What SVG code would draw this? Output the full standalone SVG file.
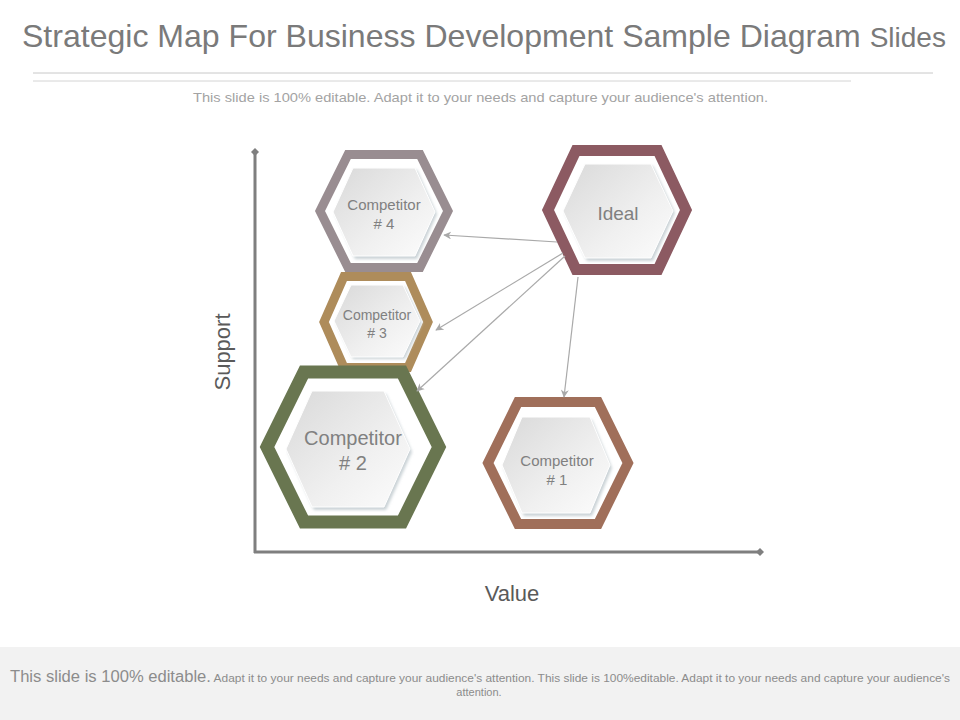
<svg xmlns="http://www.w3.org/2000/svg" width="960" height="720" viewBox="0 0 960 720">
<style>
  text { font-family: "Liberation Sans", Arial, sans-serif; }
  .title { fill: #7a7a7a; font-size: 32px; }
  .sub { fill: #a3a3a3; font-size: 13.5px; }
  .lbl { fill: #808080; text-anchor: middle; }
  .axislbl { fill: #5a5a5a; font-size: 22px; text-anchor: middle; }
  .ring { fill: #ffffff; }
  .inner { fill: url(#g); stroke: #ffffff; stroke-width: 1; }
  .shadow { fill: #c9d1d5; filter: url(#blur); }
  .conn { stroke: #a9a9a9; stroke-width: 1.2; fill: none; marker-end: url(#ah); }
  .axis { stroke: #7f7f7f; stroke-width: 3; fill: none; }
</style>
<defs>
  <linearGradient id="g" x1="0" y1="0" x2="1" y2="1">
    <stop offset="0" stop-color="#d9d9d9"/>
    <stop offset="0.6" stop-color="#f0f0f0"/>
    <stop offset="1" stop-color="#fcfcfc"/>
  </linearGradient>
  <filter id="blur" x="-20%" y="-20%" width="140%" height="140%">
    <feGaussianBlur stdDeviation="1.5"/>
  </filter>
  <marker id="ah" viewBox="0 0 10 10" refX="9" refY="5" markerWidth="8" markerHeight="8" markerUnits="userSpaceOnUse" orient="auto">
    <path d="M0,0 L10,5 L0,10 L3,5 Z" fill="#a9a9a9"/>
  </marker>
  <marker id="dm" viewBox="0 0 10 10" refX="5" refY="5" markerWidth="8" markerHeight="8" markerUnits="userSpaceOnUse" orient="auto">
    <path d="M0,5 L5,0 L10,5 L5,10 Z" fill="#7f7f7f"/>
  </marker>
</defs>
<rect x="0" y="0" width="960" height="720" fill="#ffffff"/>

<g id="header">
  <text class="title" x="22" y="47" textLength="924" lengthAdjust="spacingAndGlyphs">Strategic Map For Business Development Sample Diagram <tspan font-size="28">Slides</tspan></text>
  <line x1="33" y1="73" x2="933" y2="73" stroke="#c8c8c8" stroke-width="1"/>
  <line x1="33" y1="81" x2="851" y2="81" stroke="#d4d4d4" stroke-width="1"/>
  <text class="sub" x="193" y="102" textLength="575" lengthAdjust="spacingAndGlyphs">This slide is 100% editable. Adapt it to your needs and capture your audience's attention.</text>
</g>

<g id="axes">
  <line class="axis" x1="255" y1="553" x2="255" y2="152" marker-end="url(#dm)"/>
  <line class="axis" x1="254" y1="552" x2="760" y2="552" marker-end="url(#dm)"/>
  <text class="axislbl" transform="translate(230,352) rotate(-90)">Support</text>
  <text class="axislbl" x="512" y="601">Value</text>
</g>

<g id="competitor4">
  <polygon class="ring" points="320,211 348,154.5 420,154.5 448,211 420,267.5 348,267.5" stroke="#998d91" stroke-width="9"/>
  <polygon class="shadow" points="335,214 355,170 417,170 437,214 417,259 355,259"/>
  <polygon class="inner" points="333,212 353,168 415,168 435,212 415,256 353,256"/>
  <text class="lbl" font-size="15" x="384" y="210">Competitor</text>
  <text class="lbl" font-size="15" x="384" y="229"># 4</text>
</g>

<g id="ideal">
  <polygon class="ring" points="548,210 576,150.5 658,150.5 686,210 658,269.5 576,269.5" stroke="#8c5a62" stroke-width="11"/>
  <polygon class="shadow" points="565,213 587,166 653,166 675,213 653,261 587,261"/>
  <polygon class="inner" points="563,211 585,164 651,164 673,211 651,258 585,258"/>
  <text class="lbl" font-size="19" x="618" y="220">Ideal</text>
</g>

<g id="competitor3">
  <polygon class="ring" points="324,322 344,276.5 408,276.5 428,322 408,367.5 344,367.5" stroke="#ae8c5b" stroke-width="9"/>
  <polygon class="shadow" points="336,323 353,287 405,287 422,323 405,359 353,359"/>
  <polygon class="inner" points="334,321 351,285 403,285 420,321 403,357 351,357"/>
  <text class="lbl" font-size="14" x="377" y="320">Competitor</text>
  <text class="lbl" font-size="14" x="377" y="338"># 3</text>
</g>

<g id="competitor2">
  <polygon class="ring" points="267,447 304,372 402,372 439,447 402,522 304,522" stroke="#697650" stroke-width="13"/>
  <polygon class="shadow" points="288,452 314,394 386,394 412,452 386,510 314,510"/>
  <polygon class="inner" points="286,449 312,391 384,391 410,449 384,507 312,507"/>
  <text class="lbl" font-size="20" x="353" y="445">Competitor</text>
  <text class="lbl" font-size="20" x="353" y="470"># 2</text>
</g>

<g id="competitor1">
  <polygon class="ring" points="488,463 518,402 598,402 628,463 598,524 518,524" stroke="#a06f5a" stroke-width="10"/>
  <polygon class="shadow" points="504,468 524,420 592,420 612,468 592,516 524,516"/>
  <polygon class="inner" points="502,465 522,417 590,417 610,465 590,513 522,513"/>
  <text class="lbl" font-size="15" x="557" y="466">Competitor</text>
  <text class="lbl" font-size="15" x="557" y="485"># 1</text>
</g>

<g id="connectors">
  <line class="conn" x1="557" y1="242" x2="444" y2="235"/>
  <line class="conn" x1="563" y1="253" x2="436" y2="330"/>
  <line class="conn" x1="565" y1="256" x2="417" y2="391"/>
  <line class="conn" x1="578" y1="277" x2="564" y2="397"/>
</g>

<g id="footer">
  <rect x="0" y="647" width="960" height="73" fill="#f2f2f2"/>
  <text x="10" y="682" fill="#8c8c8c" font-size="11.5" textLength="940" lengthAdjust="spacingAndGlyphs"><tspan font-size="16">This slide is 100% editable.</tspan> Adapt it to your needs and capture your audience's attention. This slide is 100%editable. Adapt it to your needs and capture your audience's</text>
  <text x="479" y="696" text-anchor="middle" fill="#8c8c8c" font-size="11">attention.</text>
</g>
</svg>
